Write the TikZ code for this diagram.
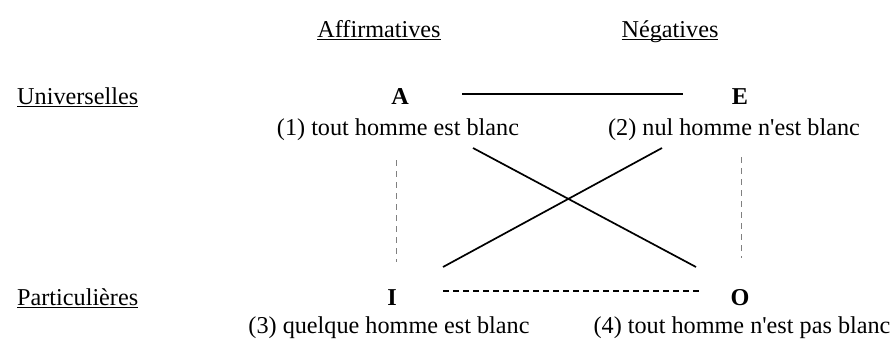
\documentclass[tikz,border=0pt]{standalone}
\usepackage{fontspec}
\setmainfont{Liberation Serif}
\newcommand\myul[1]{\setbox0\hbox{#1}\rlap{\rule[-3bp]{\wd0}{1.3bp}}\box0}
\newcommand\apos{{\addfontfeature{Ligatures=TeXOff}'}}
\tikzset{
  txt/.style={inner sep=0pt, anchor=base, font=\fontsize{24.3}{28}\selectfont},
  lbl/.style={txt, anchor=base west},
  letter/.style={txt, font=\fontsize{24.3}{28}\selectfont\bfseries},
  solidline/.style={line width=1.7bp, black},
  greydash/.style={line width=1bp, gray, dash pattern=on 6bp off 5bp},
  blackdash/.style={line width=1.7bp, black, dash pattern=on 6bp off 4bp}
}
\begin{document}
\begin{tikzpicture}[x=1bp,y=1bp]
\useasboundingbox (0,0) rectangle (891,338);
% headers
\node[txt] (aff) at (379,301) {\myul{Affirmatives}};
\node[txt] (neg) at (670,301) {\myul{Négatives}};
% row labels
\node[lbl] (univ) at (17,234) {\myul{Universelles}};
\node[lbl] (part) at (17,33) {\myul{Particulières}};
% letters
\node[letter] (A) at (400,234) {A};
\node[letter] (E) at (740,234) {E};
\node[letter] (I) at (392,33) {I};
\node[letter] (O) at (740,33) {O};
% propositions
\node[txt] (p1) at (398,203) {(1) tout homme est blanc};
\node[txt] (p2) at (734,203) {(2) nul homme n\apos est blanc};
\node[txt] (p3) at (389,5) {(3) quelque homme est blanc};
\node[txt] (p4) at (742,5) {(4) tout homme n\apos est pas blanc};
% connector end points
\coordinate (ae1) at (462,244);
\coordinate (ae2) at (683,244);
\coordinate (io1) at (443,47);
\coordinate (io2) at (702,47);
\coordinate (ai1) at (396,178);
\coordinate (ai2) at (396,76);
\coordinate (eo1) at (741,181);
\coordinate (eo2) at (741,80);
\coordinate (ao1) at (473,190);
\coordinate (ao2) at (696,71);
\coordinate (ei1) at (662,190);
\coordinate (ei2) at (443,71);
% connectors
\draw[solidline] (ae1) -- (ae2);
\draw[blackdash] (io1) -- (io2);
\draw[greydash] (ai1) -- (ai2);
\draw[greydash] (eo1) -- (eo2);
\draw[solidline] (ao1) -- (ao2);
\draw[solidline] (ei1) -- (ei2);
\end{tikzpicture}
\end{document}
